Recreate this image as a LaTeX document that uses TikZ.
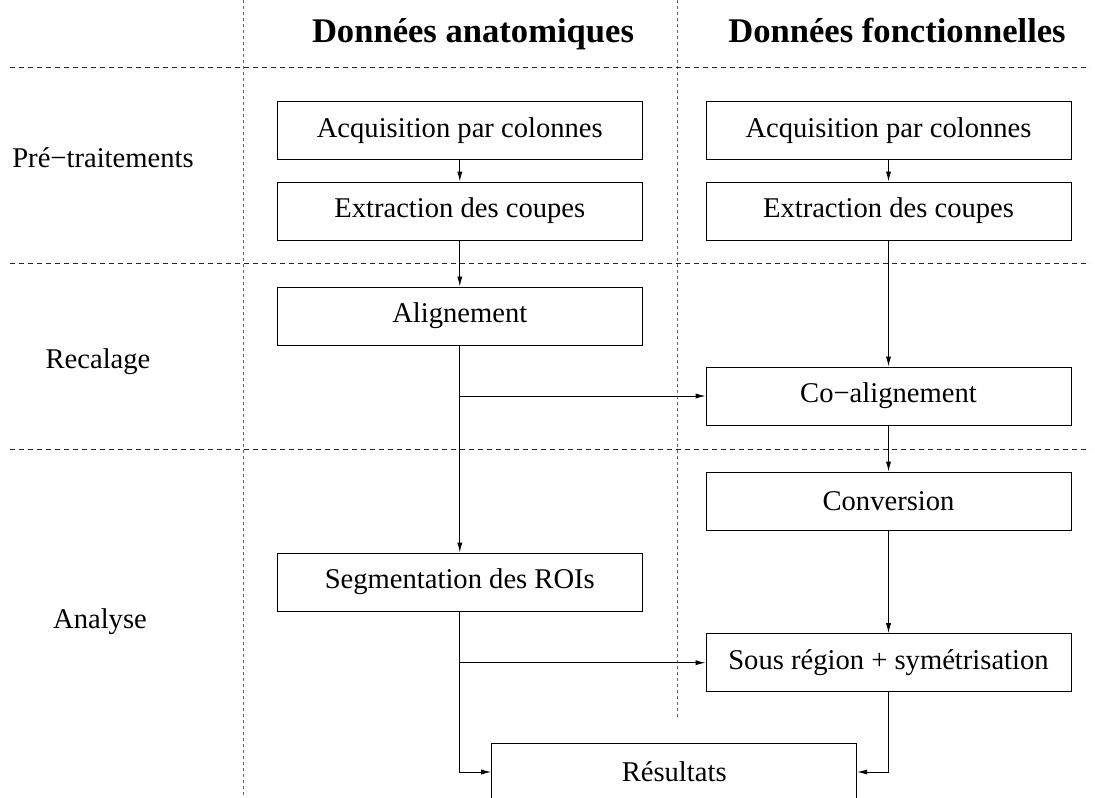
\documentclass[tikz,border=0pt]{standalone}
\usepackage{fontspec}
\setmainfont{Liberation Serif}
\usetikzlibrary{arrows.meta}
\begin{document}
\begin{tikzpicture}[x=0.5pt, y=-0.5pt]
      \tikzstyle{process} = [rectangle, minimum width=182.5pt, minimum height=29pt, text centered, draw=black, line width=0.5pt, font=\fontsize{14.3}{17}\selectfont]
      \tikzstyle{heading} = [anchor=base, font=\fontsize{17.3}{20}\selectfont\bfseries]
      \tikzstyle{phase} = [anchor=base, font=\fontsize{14.3}{17}\selectfont]
      \tikzstyle{flow} = [line width=0.5pt, -{Latex[length=5pt, width=2.6pt]}]
      \tikzstyle{rowline} = [black!85, line width=0.45pt, dash pattern=on 2.5pt off 2pt]
      \tikzstyle{colline} = [black!60, line width=0.45pt, dash pattern=on 1.5pt off 1.5pt]

      \path [use as bounding box, clip] (0,0) rectangle (1095,797);

      % separations
      \draw [colline] (243,0) -- (243,797);
      \draw [colline] (677,0) -- (677,720);
      \draw [rowline] (10,67) -- (1090,67);
      \draw [rowline] (10,263) -- (1090,263);
      \draw [rowline] (10,449) -- (1090,449);

      \node (anat) [heading] at (473,43) {Données anatomiques};
      \node (fonc) [heading] at (897,43) {Données fonctionnelles};
      \node (pretrait) [phase] at (103,167) {Pré−traitements};
      \node (recalage) [phase] at (98,368) {Recalage};
      \node (analyse) [phase] at (100,628) {Analyse};

      \node (acqanat) [process] at (459.8,130.5) {Acquisition par colonnes};
      \node (extanat) [process] at (459.8,211) {Extraction des coupes};
      \node (align) [process] at (459.8,316) {Alignement};
      \node (segment) [process] at (459.8,582) {Segmentation des ROIs};

      \node (acqfonc) [process] at (888.5,130.5) {Acquisition par colonnes};
      \node (extfonc) [process] at (888.5,211) {Extraction des coupes};
      \node (coalign) [process] at (888.5,396) {Co−alignement};
      \node (convert) [process] at (888.5,501) {Conversion};
      \node (sousreg) [process] at (888.5,662.7) {Sous région + symétrisation};

      \node (result) [process] at (674.2,772) {Résultats};

      \draw [flow] (acqanat) -- (extanat);
      \draw [flow] (extanat) -- (align);
      \draw [flow] (align) -- (segment);
      \draw [flow] (align.south |- coalign.west) -- (coalign.west);
      \draw [flow] (acqfonc) -- (extfonc);
      \draw [flow] (extfonc) -- (coalign);
      \draw [flow] (coalign) -- (convert);
      \draw [flow] (convert) -- (sousreg);
      \draw [flow] (segment.south |- sousreg.west) -- (sousreg.west);
      \draw [flow] (segment.south) |- (result.west);
      \draw [flow] (sousreg.south) |- (result.east);
    \end{tikzpicture}
\end{document}
